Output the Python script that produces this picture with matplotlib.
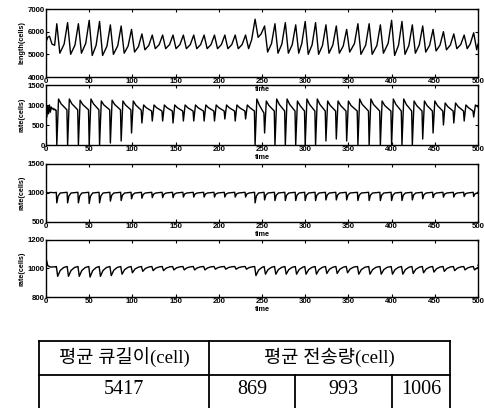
import numpy as np
import matplotlib
matplotlib.use("Agg")
import matplotlib.pyplot as plt

# ---------------- data ----------------
cycle_t = [12.5, 25, 37.5, 50, 62, 74.5, 87, 99, 111, 123, 135, 147, 159, 171, 183,
           195, 207, 219, 231, 242, 253, 265, 277, 289, 300, 312, 324, 336, 348, 361,
           374, 387, 400, 412, 424, 436, 448, 460, 472, 484, 495]

# panel 1: queue length
len_start_t = [0, 2, 4, 7, 10]
len_start_v = [5550, 5750, 5800, 5450, 5400]
len_peak = [6350, 6400, 6350, 6500, 6450, 6300, 6250, 6100, 5900, 5850, 5850, 5850,
            5850, 5850, 5850, 5850, 5850, 5850, 5850, 6550, 6250, 6350, 6400, 6300,
            6450, 6400, 6300, 6250, 6100, 6350, 6350, 6300, 6500, 6450, 6300, 6250,
            6100, 6000, 5900, 5850, 5950]
len_trough = [5050, 5000, 5050, 4950, 4950, 5000, 5050, 5100, 5200, 5250, 5250, 5250,
              5250, 5250, 5250, 5250, 5250, 5250, 5250, 5750, 5100, 5050, 5050, 5050,
              5000, 5000, 5050, 5050, 5100, 5000, 5000, 5050, 4950, 5000, 5050, 5100,
              5150, 5200, 5250, 5250, 5200]
len_end = 5450

# panel 2: rate
r1_start_t = [0, 1, 2, 3, 4, 5, 6, 7, 8, 9, 10, 11]
r1_start_v = [950, 700, 980, 780, 1000, 820, 950, 900, 920, 880, 900, 870]
r1_dip = [0, 0, 0, 0, 0, 50, 100, 300, 550, 600, 600, 550, 600, 600, 600, 600, 650,
          600, 650, 0, 300, 0, 0, 0, 0, 0, 100, 150, 100, 0, 0, 0, 0, 0, 0, 150, 300,
          500, 550, 600, 700]
r1_peak = [1150, 1150, 1120, 1150, 1100, 1120, 1100, 1100, 1000, 1000, 1000, 1000,
           1000, 1000, 1000, 1000, 1000, 1000, 1000, 1150, 1100, 1150, 1150, 1100,
           1150, 1150, 1100, 1100, 1100, 1150, 1150, 1100, 1150, 1150, 1100, 1100,
           1100, 1050, 1050, 1000, 1000]
r1_pre = [870, 880, 880, 880, 880, 880, 880, 880, 870, 850, 850, 850, 850, 850, 850,
          850, 850, 850, 850, 850, 800, 850, 850, 850, 850, 850, 850, 850, 850, 850,
          850, 850, 850, 850, 850, 850, 850, 850, 850, 850, 850]
r1_end = 950

# panel 3: rate
r2_start_t = [0, 2, 5, 10]
r2_start_v = [1020, 1000, 1010, 1005]
r2_dip = [830, 830, 830, 820, 830, 860, 870, 900, 910, 920, 920, 920, 930, 930, 930,
          930, 930, 930, 930, 830, 880, 870, 870, 870, 870, 870, 880, 880, 880, 870,
          870, 870, 870, 870, 880, 900, 920, 930, 930, 940, 940]
r2_top = 1012
r2_end = 1015

# panel 4: rate
r3_start_t = [0, 0.5, 2, 5, 11]
r3_start_v = [1000, 1060, 1020, 1010, 1012]
r3_dip = [945, 945, 945, 940, 945, 950, 960, 970, 980, 985, 985, 990, 990, 990, 990,
          995, 995, 995, 995, 950, 960, 960, 960, 960, 960, 960, 965, 965, 970, 960,
          960, 960, 960, 960, 965, 970, 975, 980, 985, 990, 990]
r3_top = 1014
r3_end = 1022

# table
table_header = ["평균 큐길이(cell)", "평균 전송량(cell)"]
table_values = ["5417", "869", "993", "1006"]

# ---------------- build line vertices ----------------
def series_length():
    t, v = list(len_start_t), list(len_start_v)
    n = len(cycle_t)
    for i in range(n):
        t.append(cycle_t[i]); v.append(len_peak[i])
        t.append(cycle_t[i] + 3.5); v.append(len_trough[i])
        if i + 1 < n:
            t.append(cycle_t[i + 1] - 4)
            v.append(len_trough[i] + 0.3 * (len_peak[i + 1] - len_trough[i]))
    t.append(500); v.append(len_end)
    return t, v

def series_rate1():
    t, v = list(r1_start_t), list(r1_start_v)
    n = len(cycle_t)
    for i in range(n):
        t.append(cycle_t[i] - 0.8); v.append(r1_pre[i])
        t.append(cycle_t[i]); v.append(r1_dip[i])
        t.append(cycle_t[i] + 2); v.append(r1_peak[i])
        if i + 1 < n:
            t.append(cycle_t[i] + 5)
            v.append(r1_peak[i] - 0.45 * (r1_peak[i] - r1_pre[i + 1]))
    t.append(500); v.append(r1_end)
    return t, v

def series_rate2():
    t, v = list(r2_start_t), list(r2_start_v)
    n = len(cycle_t)
    for i in range(n):
        t.append(cycle_t[i] - 0.6); v.append(r2_top)
        t.append(cycle_t[i]); v.append(r2_dip[i])
        t.append(cycle_t[i] + 1.5); v.append(r2_top - 0.35 * (r2_top - r2_dip[i]))
        t.append(cycle_t[i] + 4); v.append(r2_top - 12)
    t.append(500); v.append(r2_end)
    return t, v

def series_rate3():
    t, v = list(r3_start_t), list(r3_start_v)
    n = len(cycle_t)
    for i in range(n):
        t.append(cycle_t[i] - 0.5); v.append(r3_top)
        t.append(cycle_t[i] + 1); v.append(r3_dip[i])
        t.append(cycle_t[i] + 4); v.append(r3_dip[i] + 0.6 * (r3_top - r3_dip[i]))
        t.append(cycle_t[i] + 8); v.append(r3_dip[i] + 0.9 * (r3_top - r3_dip[i]))
    t.append(500); v.append(r3_end)
    return t, v

# ---------------- figure ----------------
W, H = 484, 408
fig = plt.figure(figsize=(W / 100, H / 100), dpi=100)
fig.patch.set_facecolor("white")

tick_font = dict(family="Liberation Sans", weight="bold", size=5.6)
lab_font = dict(family="Liberation Sans", weight="bold", size=5.2)

def px_rect(top, bottom, left=46, right=478):
    return [left / W, 1 - bottom / H, (right - left) / W, (bottom - top) / H]

panels = [
    (px_rect(9, 77), series_length(), (4000, 7000), [4000, 5000, 6000, 7000], "length(cells)"),
    (px_rect(85, 145), series_rate1(), (0, 1500), [0, 500, 1000, 1500], "rate(cells)"),
    (px_rect(164, 222), series_rate2(), (500, 1500), [500, 1000, 1500], "rate(cells)"),
    (px_rect(240, 297), series_rate3(), (800, 1200), [800, 1000, 1200], "rate(cells)"),
]
xticks = list(range(0, 501, 50))

for k, (rect, (t, v), ylim, yt, ylab) in enumerate(panels):
    ax = fig.add_axes(rect)
    ax.patch.set_alpha(0)
    ax.set_zorder(10 - k)
    ax.plot(t, v, color="black", lw=1.0)
    ax.set_xlim(0, 500)
    ax.set_ylim(*ylim)
    ax.set_xticks(xticks)
    ax.set_yticks(yt)
    ax.set_xticklabels([str(x) for x in xticks], fontdict=tick_font)
    ax.set_yticklabels([str(y) for y in yt], fontdict=tick_font)
    ax.tick_params(direction="in", top=True, right=True, length=2.5, width=0.8, pad=0.8)
    for s in ax.spines.values():
        s.set_linewidth(1.0)
    ax.set_ylabel(ylab, fontdict=lab_font, labelpad=1.5)
    ax.set_xlabel("time", fontdict=lab_font, labelpad=0.6)

# ---------------- table ----------------
tax = fig.add_axes([0, 0, 1, 1])
tax.set_xlim(0, W)
tax.set_ylim(H, 0)
tax.axis("off")
lw = 1.3
xl, x1, x2, x3, xr = 39, 209, 295, 392, 450
yt0, ym, yb = 341, 375, 445
for (xa, ya, xb, yb2) in [(xl, yt0, xr, yt0), (xl, ym, xr, ym), (xl, yb, xr, yb),
                          (xl, yt0, xl, yb), (xr, yt0, xr, yb), (x1, yt0, x1, yb),
                          (x2, ym, x2, yb), (x3, ym, x3, yb)]:
    tax.plot([xa, xb], [ya, yb2], color="black", lw=lw, clip_on=False,
             solid_capstyle="projecting")

fam = ["Liberation Serif", "Noto Sans CJK KR"]
tax.text((xl + x1) / 2, 358, table_header[0], ha="center", va="center", size=13.5, family=fam)
tax.text((x1 + xr) / 2, 357, table_header[1], ha="center", va="center", size=13.5, family=fam)
cell_x = [(xl + x1) / 2, (x1 + x2) / 2, (x2 + x3) / 2, (x3 + xr) / 2]
for cx, s in zip(cell_x, table_values):
    tax.text(cx, 389, s, ha="center", va="center", size=14.5, family="Liberation Serif")

fig.savefig("out.png", dpi=100)
